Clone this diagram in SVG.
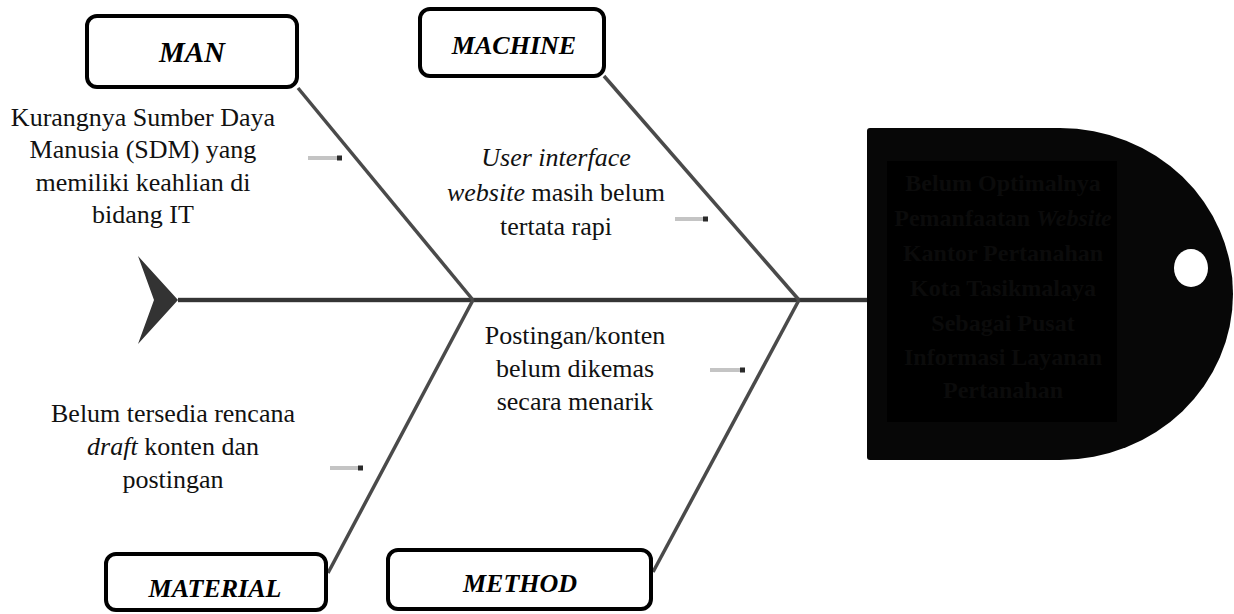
<svg xmlns="http://www.w3.org/2000/svg" width="1234" height="614" viewBox="0 0 1234 614">
<style>
.t{font-family:"Liberation Serif","Times New Roman","DejaVu Serif",serif;font-size:26px;fill:#111;text-anchor:middle}
.lbl{font-family:"Liberation Serif","Times New Roman","DejaVu Serif",serif;font-size:26px;font-weight:bold;font-style:italic;fill:#000;text-anchor:middle}
.box{fill:#fff;stroke:#000;stroke-width:4}
.bone{stroke:#4a4a4a;stroke-width:3.5;fill:none}
.halo{stroke:#d8d8d8;stroke-width:6;fill:none}
.ah{stroke:#c4c4c4;stroke-width:4}
.ad{fill:#2a2a2a}
.h{font-family:"Liberation Serif","Times New Roman","DejaVu Serif",serif;font-size:24px;font-weight:bold;fill:#0b0b0b;text-anchor:middle}
</style>
<rect width="1234" height="614" fill="#fff"/>
<g id="connectors">
<line class="halo" x1="178" y1="300" x2="868" y2="300"/>
<line x1="178" y1="300" x2="868" y2="300" stroke="#353535" stroke-width="4"/>
<polygon points="138,256 178,300 138,344 154,300" fill="#333"/>
<line class="bone" x1="298" y1="88" x2="473" y2="300"/>
<line class="bone" x1="604" y1="76" x2="799" y2="300"/>
<line class="bone" x1="473" y1="300" x2="328" y2="573"/>
<line class="bone" x1="799" y1="300" x2="653" y2="572"/>
<line class="ah" x1="308" y1="158" x2="340" y2="158"/><rect class="ad" x="337" y="155.5" width="5" height="5"/>
<line class="ah" x1="675" y1="219" x2="706" y2="219"/><rect class="ad" x="703" y="216.5" width="5" height="5"/>
<line class="ah" x1="330" y1="468" x2="362" y2="468"/><rect class="ad" x="358" y="465.5" width="5" height="5"/>
<line class="ah" x1="710" y1="370" x2="744" y2="370"/><rect class="ad" x="740" y="367.5" width="5" height="5"/>
</g>
<g id="man">
<rect class="box" x="87" y="16" width="210" height="71" rx="10"/>
<text class="lbl" x="192" y="62" style="font-size:29px">MAN</text>
</g>
<g id="machine">
<rect class="box" x="420" y="9" width="184" height="67" rx="10"/>
<text class="lbl" x="514" y="54">MACHINE</text>
</g>
<g id="material">
<rect class="box" x="106" y="554" width="220" height="56" rx="10"/>
<text class="lbl" x="215" y="597">MATERIAL</text>
</g>
<g id="method">
<rect class="box" x="388" y="550" width="263" height="59" rx="10"/>
<text class="lbl" x="520" y="592">METHOD</text>
</g>
<g id="cause-man">
<text class="t" x="143" y="126">Kurangnya Sumber Daya</text>
<text class="t" x="143" y="158">Manusia (SDM) yang</text>
<text class="t" x="143" y="191">memiliki keahlian di</text>
<text class="t" x="143" y="223">bidang IT</text>
</g>
<g id="cause-machine">
<text class="t" x="556" y="166" font-style="italic">User interface</text>
<text class="t" x="556" y="201"><tspan font-style="italic">website</tspan> masih belum</text>
<text class="t" x="556" y="235">tertata rapi</text>
</g>
<g id="cause-method">
<text class="t" x="575" y="344">Postingan/konten</text>
<text class="t" x="575" y="377">belum dikemas</text>
<text class="t" x="575" y="410">secara menarik</text>
</g>
<g id="cause-material">
<text class="t" x="173" y="422">Belum tersedia rencana</text>
<text class="t" x="173" y="455"><tspan font-style="italic">draft</tspan> konten dan</text>
<text class="t" x="173" y="488">postingan</text>
</g>
<g id="effect">
<path d="M870,128 H1060 A173,166 0 0 1 1060,460 H870 Q867,460 867,457 V131 Q867,128 870,128 Z" fill="#070707"/>
<ellipse cx="1191" cy="268" rx="17" ry="19" fill="#fff"/>
<rect x="887" y="161" width="230" height="261" fill="#000"/>
<text class="h" x="1003" y="191">Belum Optimalnya</text>
<text class="h" x="1003" y="226">Pemanfaatan <tspan font-style="italic">Website</tspan></text>
<text class="h" x="1003" y="261">Kantor Pertanahan</text>
<text class="h" x="1003" y="296">Kota Tasikmalaya</text>
<text class="h" x="1003" y="331">Sebagai Pusat</text>
<text class="h" x="1003" y="365">Informasi Layanan</text>
<text class="h" x="1003" y="398">Pertanahan</text>
</g>
</svg>
